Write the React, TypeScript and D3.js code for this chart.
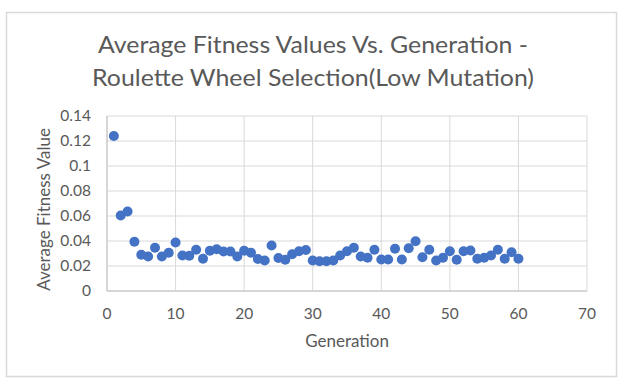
import React from 'react';
import * as d3 from 'd3';

const generations = d3.range(1, 61);
const fitness = [
  0.124, 0.0604, 0.0636, 0.0394, 0.029, 0.0276, 0.0346, 0.0276, 0.0306, 0.0388,
  0.0284, 0.0282, 0.033, 0.0258, 0.0322, 0.0334, 0.0316, 0.0316, 0.0276, 0.0322,
  0.0306, 0.0256, 0.0244, 0.0364, 0.0264, 0.025, 0.0294, 0.0318, 0.0328, 0.0244,
  0.0238, 0.0238, 0.0244, 0.0284, 0.0318, 0.0346, 0.0276, 0.0266, 0.033, 0.0252,
  0.0252, 0.0338, 0.0252, 0.0342, 0.0398, 0.027, 0.033, 0.0244, 0.0266, 0.0318,
  0.025, 0.0318, 0.0324, 0.0258, 0.0266, 0.0284, 0.033, 0.0258, 0.031, 0.0258,
];
const xTicks = [0, 10, 20, 30, 40, 50, 60, 70];
const yTicks = [0, 0.02, 0.04, 0.06, 0.08, 0.1, 0.12, 0.14];
const titleLines = ['Average Fitness Values Vs. Generation -', 'Roulette Wheel Selection(Low Mutation)'];

const W = 628;
const H = 384;
const margin = { left: 107, right: 41, top: 116, bottom: 93 };
const font = "Lato, 'Open Sans', sans-serif";
const textColor = '#595959';
const gridColor = '#d9d9d9';

export default function App() {
  const x = d3.scaleLinear().domain([0, 70]).range([margin.left, W - margin.right]);
  const y = d3.scaleLinear().domain([0, 0.14]).range([H - margin.bottom, margin.top]);
  const points = generations.map((g, i) => ({ g, v: fitness[i] }));

  return (
    <svg
      width={W}
      height={H}
      style={{ position: 'absolute', left: 0, top: 0, background: '#fff' }}
      fontFamily={font}
    >
      <rect x={6.5} y={12.5} width={610} height={364} fill="#fff" stroke={gridColor} strokeWidth={1.5} />

      {/* title */}
      {titleLines.map((t, i) => (
        <text
          key={i}
          x={313}
          y={53 + i * 33}
          textAnchor="middle"
          fontSize={24}
          fill={textColor}
          textLength={i === 0 ? 430 : 442}
          lengthAdjust="spacingAndGlyphs"
        >
          {t}
        </text>
      ))}

      {/* grid */}
      {yTicks.map(t => (
        <line key={'gy' + t} x1={x(0)} x2={x(70)} y1={y(t)} y2={y(t)} stroke={gridColor} strokeWidth={1} />
      ))}
      {xTicks.map(t => (
        <line key={'gx' + t} x1={x(t)} x2={x(t)} y1={y(0)} y2={y(0.14)} stroke={gridColor} strokeWidth={1} />
      ))}
      <line x1={x(0)} x2={x(0)} y1={y(0)} y2={y(0.14)} stroke="#cfcfcf" strokeWidth={1.5} />
      <line x1={x(0)} x2={x(70)} y1={y(0)} y2={y(0)} stroke="#cfcfcf" strokeWidth={1.5} />

      {/* y tick labels */}
      {yTicks.map(t => (
        <text key={'ty' + t} x={91} y={y(t)} dy="0.35em" textAnchor="end" fontSize={15.5} fill={textColor}>
          {t === 0 ? '0' : String(+t.toFixed(2))}
        </text>
      ))}
      {/* x tick labels */}
      {xTicks.map(t => (
        <text key={'tx' + t} x={x(t)} y={319} textAnchor="middle" fontSize={15.5} fill={textColor}>
          {t}
        </text>
      ))}

      {/* axis titles */}
      <text x={347} y={347} textAnchor="middle" fontSize={17} fill={textColor}>Generation</text>
      <text
        transform={`translate(50,${(y(0) + y(0.14)) / 2 + 6}) rotate(-90)`}
        textAnchor="middle"
        fontSize={17}
        fill={textColor}
      >
        Average Fitness Value
      </text>

      {/* points */}
      {points.map(p => (
        <circle key={p.g} cx={x(p.g)} cy={y(p.v)} r={5} fill="#4472c4" />
      ))}
    </svg>
  );
}
